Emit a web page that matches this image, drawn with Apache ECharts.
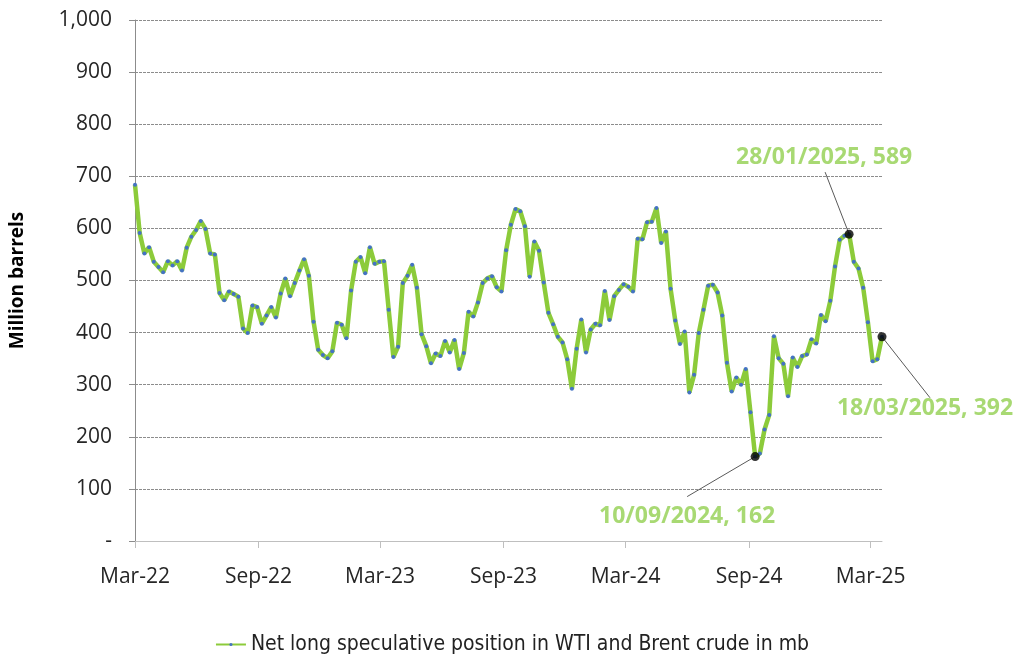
<!DOCTYPE html>
<html>
<head>
<meta charset="utf-8">
<script src="https://cdn.jsdelivr.net/npm/echarts@6/dist/echarts.min.js"></script>
<style>
html,body{margin:0;padding:0;background:#fff;}
#chart{width:1024px;height:669px;}
</style>
</head>
<body>
<div id="chart"></div>
<script>
// Weekly COT dates: first observation and weekly step
var startDate = '2022-03-01';
var lastDate = '2025-03-18';
// Net long speculative position (million barrels), one value per week
var values = [
  684, 591, 552, 564, 536, 526, 516, 537, 529, 537,
  519, 563, 584, 597, 614, 599, 552, 550, 476, 462,
  479, 474, 469, 408, 399, 452, 449, 417, 433, 449,
  429, 475, 504, 470, 495, 519, 541, 509, 421, 367,
  357, 351, 364, 419, 415, 389, 481, 536, 545, 514,
  564, 532, 536, 537, 444, 353, 373, 495, 509, 530,
  486, 397, 374, 341, 360, 355, 384, 362, 386, 330,
  361, 440, 431, 458, 495, 504, 508, 487, 479, 558,
  607, 637, 633, 604, 507, 575, 557, 496, 438, 416,
  392, 381, 349, 292, 369, 425, 362, 406, 417, 414,
  480, 424, 470, 482, 493, 488, 479, 580, 579, 612,
  613, 639, 572, 594, 484, 423, 378, 402, 285, 319,
  399, 444, 490, 492, 477, 433, 342, 287, 314, 300,
  330, 247, 162, 168, 214, 242, 393, 351, 340, 278,
  352, 334, 355, 358, 387, 379, 434, 422, 461, 527,
  578, 586, 589, 536, 523, 486, 420, 345, 349, 392
];
var seriesName = 'Net long speculative position in WTI and Brent crude in mb';
var tickDates = ['2022-03-01','2022-09-01','2023-03-01','2023-09-01','2024-03-01','2024-09-01','2025-03-01'];
var tickLabels = ['Mar-22','Sep-22','Mar-23','Sep-23','Mar-24','Sep-24','Mar-25'];
var highlightIdx = [132, 152, 159];
var highlightLabels = ['10/09/2024, 162', '28/01/2025, 589', '18/03/2025, 392'];

function ts(s){ var p = s.split('-'); return Date.UTC(+p[0], +p[1]-1, +p[2]); }
var DAY = 86400000;
var t0 = ts(startDate);
var lineData = values.map(function(v, i){ return [t0 + i*7*DAY, v]; });
var tickTs = tickDates.map(ts);
var hlData = highlightIdx.map(function(idx, k){
  return { value: lineData[idx], labelText: highlightLabels[k] };
});
// label placement relative to its point (pixels) and leader-line end relative to point
var labelOffsets = [[-68, 60], [-25, -77], [43, 72]];
var leaderEnds = [[-68, 40], [-24, -62], [48, 61]];

var chart = echarts.init(document.getElementById('chart'));
var FONT = 'Open Sans';
chart.setOption({
  animation: false,
  grid: { left: 133, right: 142, top: 20, bottom: 128 },
  legend: {
    top: 629,
    left: 'center',
    itemWidth: 30,
    itemHeight: 4,
    itemGap: 2,
    data: [seriesName],
    textStyle: { fontFamily: 'Liberation Sans Narrow, DejaVu Sans Condensed', fontSize: 21, color: '#222' }
  },
  xAxis: {
    type: 'value',
    min: t0,
    max: ts(lastDate),
    axisLine: { show: true, lineStyle: { color: '#bfbfbf', width: 1 } },
    axisTick: { show: true, length: 7, inside: false, customValues: tickTs, lineStyle: { color: '#bfbfbf' } },
    axisLabel: {
      customValues: tickTs,
      margin: 26,
      fontFamily: FONT,
      fontSize: 21,
      color: '#262626',
      formatter: function(v){
        for (var i = 0; i < tickTs.length; i++) if (Math.abs(tickTs[i] - v) < DAY) return tickLabels[i];
        return '';
      }
    },
    splitLine: { show: false }
  },
  yAxis: {
    type: 'value',
    min: 0,
    max: 1000,
    interval: 100,
    name: 'Million barrels',
    nameLocation: 'middle',
    nameGap: 108,
    nameTextStyle: { fontFamily: FONT, fontSize: 19, fontWeight: 'bold', color: '#000' },
    axisLine: { show: true, lineStyle: { color: '#8c8c8c', width: 1 } },
    axisTick: { show: true, length: 6, lineStyle: { color: '#8c8c8c' } },
    axisLabel: {
      margin: 23,
      fontFamily: FONT,
      fontSize: 21,
      color: '#262626',
      formatter: function(v){ return v === 0 ? '-' : v.toLocaleString('en-US'); }
    },
    splitLine: { show: true, lineStyle: { color: '#8c8c8c', width: 1, type: [3, 1] } }
  },
  series: [
    {
      name: seriesName,
      type: 'line',
      data: lineData,
      symbol: 'circle',
      symbolSize: 4,
      itemStyle: { color: '#4472C4', borderWidth: 0 },
      lineStyle: { color: '#8CCB3A', width: 4.5 },
      emphasis: { disabled: true },
      z: 2
    },
    {
      name: 'highlights',
      type: 'scatter',
      data: hlData,
      symbol: 'circle',
      symbolSize: 9,
      itemStyle: { color: '#000' },
      emphasis: { disabled: true },
      z: 5,
      label: {
        show: true,
        position: 'inside',
        formatter: function(p){ return p.data.labelText; },
        fontFamily: FONT,
        fontSize: 23,
        fontWeight: 'bold',
        color: '#92D050'
      },
      labelLayout: function(p){
        var o = labelOffsets[p.dataIndex];
        return { dx: o[0], dy: o[1] };
      }
    }
  ]
});
var leaderLines = highlightIdx.map(function(idx, k){
  var p = chart.convertToPixel({ xAxisIndex: 0, yAxisIndex: 0 }, lineData[idx]);
  var e = leaderEnds[k];
  return {
    type: 'line',
    z: 3,
    silent: true,
    shape: { x1: p[0], y1: p[1], x2: p[0] + e[0], y2: p[1] + e[1] },
    style: { stroke: '#595959', lineWidth: 1 }
  };
});
chart.setOption({ graphic: leaderLines });
</script>
</body>
</html>
